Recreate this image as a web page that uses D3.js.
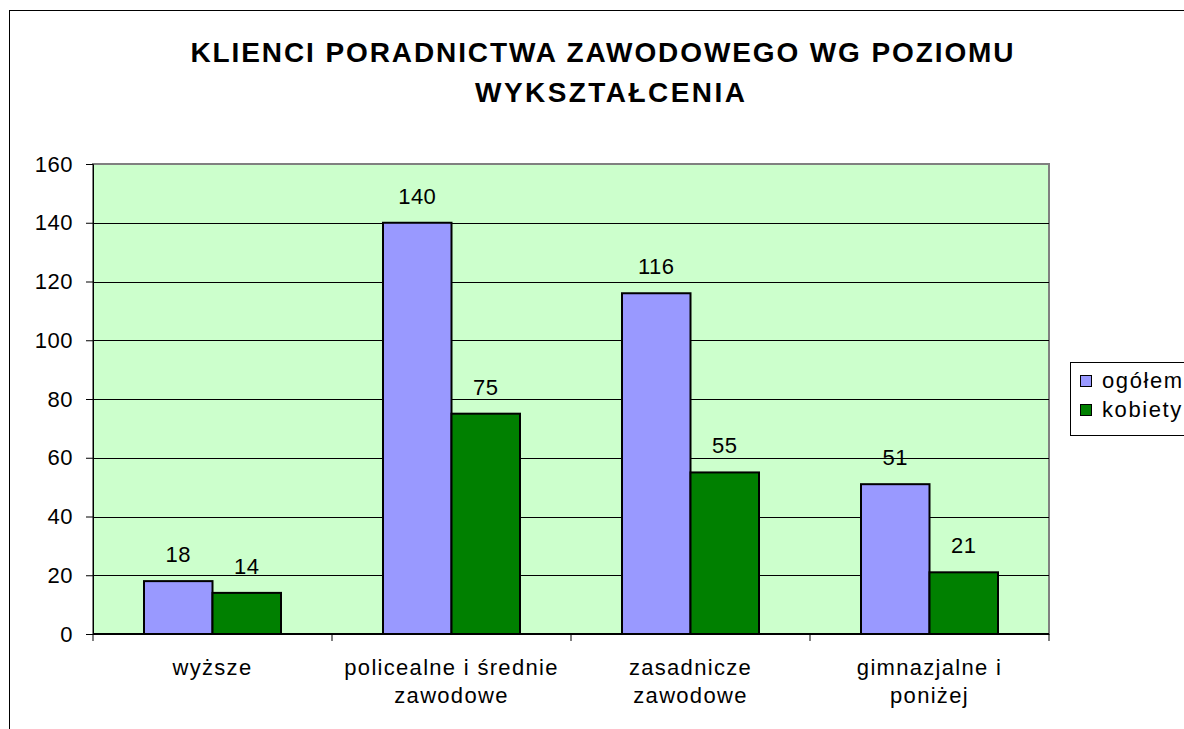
<!DOCTYPE html>
<html>
<head>
<meta charset="utf-8">
<script src="https://cdn.jsdelivr.net/npm/d3@7"></script>
<style>
  body { margin: 0; background: #fff; }
  svg { display: block; font-family: "Liberation Sans", Arial, sans-serif; }
</style>
</head>
<body>
<script>
const categories = [["wyższe"], ["policealne i średnie", "zawodowe"], ["zasadnicze", "zawodowe"], ["gimnazjalne i", "poniżej"]]
const seriesNames = ["ogółem", "kobiety"]
const ogolem = [18, 140, 116, 51]
const kobiety = [14, 75, 55, 21]
const yTicks = [0, 20, 40, 60, 80, 100, 120, 140, 160]
const titleLines = ["KLIENCI PORADNICTWA ZAWODOWEGO WG POZIOMU", "WYKSZTAŁCENIA"]
const colors = ["#9999FF", "#008000"]

const width = 1184, height = 729
const plot = { left: 93, top: 164, right: 1049, bottom: 634 }
const fs = "22px"

const svg = d3.select("body").append("svg")
    .attr("width", width)
    .attr("height", height)

// chart frame (cut off on the right and bottom like the source)
svg.append("rect")
    .attr("x", 9.5).attr("y", 10.5)
    .attr("width", 1300).attr("height", 900)
    .style("fill", "white").style("stroke", "black").style("stroke-width", 1)

const titleWidths = [823, 270]
svg.selectAll("text.title")
  .data(titleLines)
  .enter().append("text")
    .attr("class", "title")
    .attr("x", (d, i) => i === 0 ? 602 : 610)
    .attr("y", (d, i) => 62 + i * 40)
    .attr("text-anchor", "middle")
    .attr("font-size", "28px")
    .attr("font-weight", "bold")
    .attr("textLength", (d, i) => titleWidths[i])
    .attr("lengthAdjust", "spacing")
    .text(d => d)

const x0 = d3.scaleBand()
    .domain(d3.range(categories.length))
    .range([plot.left, plot.right])
    .paddingInner(0).paddingOuter(0)

const x1 = d3.scaleBand()
    .domain(seriesNames)
    .range([51, x0.bandwidth() - 51])

const y = d3.scaleLinear()
    .domain([0, 160])
    .range([plot.bottom, plot.top])

svg.append("rect")
    .attr("x", plot.left).attr("y", plot.top)
    .attr("width", plot.right - plot.left).attr("height", plot.bottom - plot.top)
    .style("fill", "#CCFFCC").style("stroke", "#808080").style("stroke-width", 2)

// gridlines
svg.append("g")
  .selectAll("line")
  .data(yTicks.filter(d => d > 0 && d < 160))
  .enter().append("line")
    .attr("x1", plot.left).attr("x2", plot.right)
    .attr("y1", d => Math.round(y(d)) + 0.5).attr("y2", d => Math.round(y(d)) + 0.5)
    .style("stroke", "black").style("stroke-width", 1)

// y axis
const yAxis = svg.append("g")
    .attr("transform", `translate(${plot.left},0)`)
    .call(d3.axisLeft(y).tickValues(yTicks).tickSize(7).tickPadding(13))
yAxis.select(".domain").attr("stroke", "black")
yAxis.selectAll("text")
    .attr("font-size", fs).attr("fill", "black")
    .attr("font-family", "Liberation Sans, Arial, sans-serif")
    .attr("letter-spacing", "0.5px")

// bars
const data = categories.map((c, i) => [
  { key: "ogółem", value: ogolem[i] },
  { key: "kobiety", value: kobiety[i] }
])

const groups = svg.append("g")
  .selectAll("g")
  .data(data)
  .enter().append("g")
    .attr("transform", (d, i) => `translate(${x0(i)},0)`)

groups.selectAll("rect")
  .data(d => d)
  .enter().append("rect")
    .attr("x", d => x1(d.key))
    .attr("y", d => y(d.value))
    .attr("width", x1.bandwidth())
    .attr("height", d => y(0) - y(d.value))
    .style("fill", (d, i) => colors[i])
    .style("stroke", "black").style("stroke-width", 2)

groups.selectAll("text")
  .data(d => d)
  .enter().append("text")
    .attr("x", d => x1(d.key) + x1.bandwidth() / 2)
    .attr("y", d => y(d.value) - 19)
    .attr("text-anchor", "middle")
    .attr("font-size", fs)
    .attr("letter-spacing", "0.5px")
    .text(d => d.value)

// x axis
const xAxis = svg.append("g")
    .attr("transform", `translate(0,${plot.bottom})`)
xAxis.append("line")
    .attr("x1", plot.left).attr("x2", plot.right)
    .attr("y1", 0).attr("y2", 0)
    .style("stroke", "black").style("stroke-width", 2)
xAxis.selectAll("line.tick")
  .data(d3.range(categories.length + 1))
  .enter().append("line")
    .attr("class", "tick")
    .attr("x1", i => i < categories.length ? x0(i) : plot.right)
    .attr("x2", i => i < categories.length ? x0(i) : plot.right)
    .attr("y1", 0).attr("y2", 7)
    .style("stroke", "black")

categories.forEach((lines, i) => {
  xAxis.append("text")
    .attr("x", x0(i) + x0.bandwidth() / 2)
    .attr("y", 41)
    .attr("text-anchor", "middle")
    .attr("font-size", fs)
    .attr("letter-spacing", "1.3px")
    .selectAll("tspan")
    .data(lines)
    .enter().append("tspan")
      .attr("x", x0(i) + x0.bandwidth() / 2)
      .attr("dy", (d, j) => j === 0 ? 0 : 28)
      .text(d => d)
})

// legend
const legend = svg.append("g").attr("transform", "translate(1070,362)")
legend.append("rect")
    .attr("x", 0.5).attr("y", 0.5)
    .attr("width", 200).attr("height", 73)
    .style("fill", "white").style("stroke", "black")
seriesNames.forEach((name, i) => {
  legend.append("rect")
    .attr("x", 10.5).attr("y", 13.5 + i * 29)
    .attr("width", 11).attr("height", 11)
    .style("fill", colors[i]).style("stroke", "black")
  legend.append("text")
    .attr("x", 32).attr("y", 26 + i * 29)
    .attr("font-size", fs)
    .attr("letter-spacing", "1.6px")
    .text(name)
})
</script>
</body>
</html>
